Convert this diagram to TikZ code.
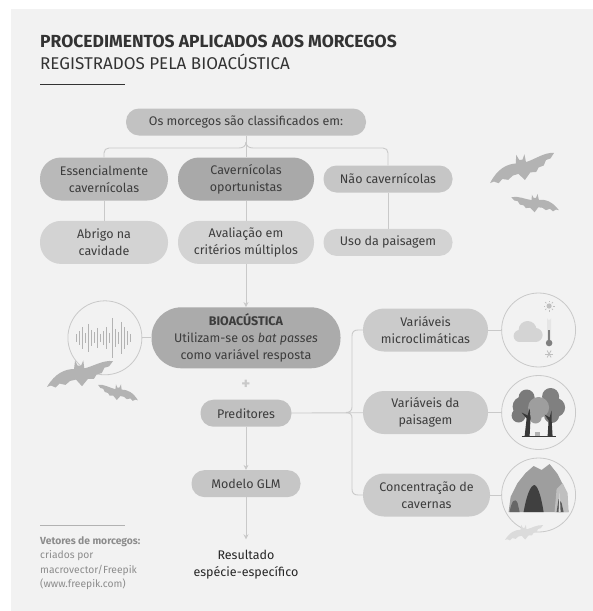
\documentclass[tikz,border=0pt]{standalone}
\usepackage{fontspec}
\setmainfont{Fira Sans}
\usetikzlibrary{positioning}
\usetikzlibrary{arrows.meta}

\definecolor{panel}{HTML}{F2F2F2}
\definecolor{ink}{HTML}{3C3C3C}
\definecolor{titleink}{HTML}{333333}
\definecolor{wire}{HTML}{C9C9C9}
\definecolor{topfill}{HTML}{C2C2C2}
\definecolor{essfill}{HTML}{B9B9B9}
\definecolor{cavfill}{HTML}{A9A9A9}
\definecolor{naofill}{HTML}{C6C6C6}
\definecolor{lowfill}{HTML}{D3D3D3}
\definecolor{biofill}{HTML}{ABABAB}
\definecolor{predfill}{HTML}{C1C1C1}
\definecolor{glmfill}{HTML}{C6C6C6}
\definecolor{varfill}{HTML}{CBCBCB}
\definecolor{batgray}{HTML}{B3B3B3}
\definecolor{creditink}{HTML}{8C8C8C}

\newcommand{\boxfont}{\fontsize{12.5}{17}\selectfont}

\tikzset{
  box/.style = {
    rectangle,
    text = ink,
    align = center,
    inner sep = 0,
    font = \boxfont
  },
  % two line boxes
  tall box/.style = {
    box,
    minimum height = 43pt,
    rounded corners = 21pt
  },
  % one line boxes
  slim box/.style = {
    box,
    minimum height = 27pt,
    rounded corners = 13pt
  },
  link/.style = {
    draw = wire,
    line width = 0.9pt
  },
  arr/.style = {
    link,
    -{Stealth[length=5pt, width=5pt]}
  },
  % round frame for the small pictures
  ring/.style = {
    circle,
    draw = wire,
    line width = 0.8pt,
    fill = panel,
    minimum size = 74pt,
    inner sep = 0
  },
  bat/.pic = {
    \fill (-1,0.42) .. controls (-0.75,0) and (-0.45,-0.12) .. (-0.18,-0.12)
      -- (-0.15,-0.38) -- (-0.07,-0.22) -- (0.03,-0.22) -- (0.1,-0.38)
      -- (0.13,-0.14) .. controls (0.4,-0.2) and (0.7,-0.4) .. (1,-0.36)
      -- (0.88,-0.2) -- (0.74,-0.16) -- (0.66,0) -- (0.5,0.05)
      -- (0.42,0.18) -- (0.24,0.18) -- (0.06,0.4) -- (-0.12,0.2)
      -- (-0.3,0.24) -- (-0.44,0.36) -- (-0.62,0.32) -- (-0.74,0.44)
      -- (-0.88,0.38) -- cycle;
  },
  node distance = 20pt
}

\begin{document}
\begin{tikzpicture}[x=1pt, y=-1pt]
  \useasboundingbox (0,0) rectangle (593,611);
  \fill[panel] (11,9) rectangle (593,611);

  % heading
  \node[anchor=base west, inner sep=0, text=titleink,
    font=\fontsize{17.5}{20}\selectfont\bfseries] (title) at (40,47)
    {PROCEDIMENTOS APLICADOS AOS MORCEGOS};
  \node[anchor=base west, inner sep=0, text=titleink,
    font=\fontsize{17}{20}\selectfont] (subtitle) at (40,69)
    {REGISTRADOS PELA BIOACÚSTICA};
  \draw[titleink, line width=0.8pt] (40,84) -- (125,84);

  % classification
  \node[slim box, fill=topfill, minimum width=240pt] (top) at (246,122)
    {Os morcegos são classificados em:};

  \node[tall box, fill=essfill, minimum width=128pt] (ess) at (104,179)
    {Essencialmente\\cavernícolas};
  \node[tall box, fill=cavfill, minimum width=136pt] (cav) at (246,179)
    {Cavernícolas\\oportunistas};
  \node[slim box, fill=naofill, minimum width=129pt] (nao) at (388,179)
    {Não cavernícolas};

  \node[tall box, fill=lowfill, minimum width=128pt] (abrigo) [below=20pt of ess]
    {Abrigo na\\cavidade};
  \node[tall box, fill=lowfill, minimum width=136pt] (aval) [below=20pt of cav]
    {Avaliação em\\critérios múltiplos};
  \node[slim box, fill=lowfill, minimum width=129pt] (uso) [below=36pt of nao]
    {Uso da paisagem};

  \coordinate (fork) at (246,142);
  \draw[link] (ess.north) -- (104,153) .. controls (104,150) and (106,148) .. (109,148)
    -- (239,148) .. controls (243,148) and (246,146) .. (fork);
  \draw[link] (fork) .. controls (246,146) and (249,148) .. (253,148)
    -- (383,148) .. controls (386,148) and (388,150) .. (388,153) -- (nao.north);
  \draw[link] (top) -- (cav);
  \draw[link] (ess) -- (abrigo);
  \draw[link] (cav) -- (aval);
  \draw[link] (nao) -- (uso);

  % bioacoustics and model
  \node[box, fill=biofill, minimum width=189pt, minimum height=61pt,
    rounded corners=30pt] (bio) [below=43pt of aval]
    {\textbf{BIOACÚSTICA}\\Utilizam-se os \emph{bat passes}\\como variável resposta};
  \draw[arr] (aval) -- (bio);

  \node[ring] (sound) [left=9pt of bio] {};
  \draw[link] (sound) -- (bio);
  \foreach \dx/\h in {-28/8, -25/14, -22/22, -19/10, -16/28, -13/16, -10/11,
      -7/20, -4/8, -1/14, 2/22, 5/10, 8/40, 11/18, 14/12, 17/32, 20/22, 23/14, 26/8}
    \draw[batgray, line width=1.1pt] ([xshift=\dx pt, yshift=\h/2 pt]sound.center)
      -- ([xshift=\dx pt, yshift=-\h/2 pt]sound.center);

  \node[text=wire, font=\fontsize{17}{17}\selectfont\bfseries, inner sep=0]
    (plus) at (246,385) {+};

  \node[slim box, fill=predfill, minimum width=91pt] (pred) [below=31pt of bio]
    {Preditores};
  \node[slim box, fill=glmfill, minimum width=109pt] (glm) [below=43pt of pred]
    {Modelo GLM};
  \node[inner sep=0, align=center, text=black!85,
    font=\fontsize{12.5}{17}\selectfont] (result) [below=53pt of glm]
    {Resultado\\espécie-específico};
  \draw[arr] (pred) -- (glm);
  \draw[arr, shorten >=11pt] (glm) -- (result);

  % predictors
  \node[tall box, fill=varfill, minimum width=125pt] (micro) at (425.5,330)
    {Variáveis\\microclimáticas};
  \node[tall box, fill=varfill, minimum width=125pt] (paisag) at (425.5,412.5)
    {Variáveis da\\paisagem};
  \node[tall box, fill=varfill, minimum width=127pt] (conc) at (426.5,495)
    {Concentração de\\cavernas};

  \coordinate (tip) at (346,412.5);
  \draw[link] (pred) -- (paisag);
  \draw[link] (micro.west) -- (358,330) .. controls (354,330) and (352,332) .. (352,336)
    -- (352,407) .. controls (352,410.5) and (350,412.5) .. (tip);
  \draw[link] (tip) .. controls (350,412.5) and (352,414.5) .. (352,418)
    -- (352,489) .. controls (352,493) and (354,495) .. (358,495) -- (conc.west);

  \node[ring] (cmicro) [right=13pt of micro] {};
  \node[ring] (cpaisag) [right=13pt of paisag] {};
  \node[ring] (cconc) [right=11pt of conc] {};
  \draw[link] (micro) -- (cmicro);
  \draw[link] (paisag) -- (cpaisag);
  \draw[link] (conc) -- (cconc);

  % weather
  \begin{scope}[shift={(cmicro.center)}]
    \fill[black!17] (-19,6) circle (6);
    \fill[black!17] (-11,0) circle (9);
    \fill[black!17] (-3,5) circle (7);
    \fill[black!17] (-19,5) rectangle (-3,12);
    \fill[black!10] (8.5,10) -- (8.5,-12) arc (180:0:2) -- (12.5,10) -- cycle;
    \fill[black!50] (9.5,0) rectangle (11.5,12);
    \fill[black!50] (10.5,13) circle (3.3);
    \fill[black!25] (10.5,-24) circle (2.6);
    \foreach \a in {0,45,...,315}
      \draw[black!25, line width=0.7pt] ([shift={(\a:3.8)}]10.5,-24) -- ([shift={(\a:5.5)}]10.5,-24);
    \foreach \a in {0,60,120}
      \draw[black!25, line width=0.8pt] ([shift={(\a:4)}]10.5,24) -- ([shift={(\a+180:4)}]10.5,24);
  \end{scope}

  % trees
  \begin{scope}[shift={(cpaisag.center)}]
    \fill[black!52] (-16,-6) circle (10) (-12,-15) circle (8) (-20,3) circle (7);
    \fill[black!50] (12,-16) circle (8.5) (17,-5) circle (9.5) (13,3) circle (7.5);
    \fill[black!38] (0,-5) circle (10.5) (-3,5) circle (6);
    \fill[black!78] (-14,24) -- (-12,6) -- (-17,0) -- (-11,3) -- (-9,-4) -- (-8,5)
      -- (-9,24) -- cycle;
    \fill[black!78] (9,24) -- (10,8) -- (6,2) -- (11,5) -- (13,-2) -- (13,7)
      -- (14,24) -- cycle;
    \fill[black!30] (-4,24) rectangle (1,19);
    \draw[black!78, line width=1pt] (-17,24) -- (17,24);
  \end{scope}

  % caves
  \begin{scope}[shift={(cconc.center)}]
    \fill[black!38] (-30,17) -- (-28,2) -- (-21,-12) -- (-13,-22) -- (-5,-29)
      -- (3,-25) -- (11,-31) -- (19,-21) -- (25,-9) -- (30,17) -- cycle;
    \fill[black!25] (16,17) -- (18,-6) -- (24,-12) -- (29,-2) -- (30,17) -- cycle;
    \fill[black!75] (-15,17) .. controls (-12,0) and (-8,-10) .. (-4,-10)
      .. controls (0,-8) and (3,4) .. (5,17) -- cycle;
    \fill[black!60] (-29,17) .. controls (-27,6) and (-24,2) .. (-21,8) -- (-19,17) -- cycle;
    \fill[black!65] (18,17) -- (20,4) -- (23,8) -- (25,17) -- cycle;
    \fill[black!15] (20,17) -- (21,-4) -- (22,17) -- cycle;
  \end{scope}

  % bats
  \pic[fill=batgray, scale=33, rotate=4] at (522,167) {bat};
  \pic[fill=batgray, scale=23, xscale=-1, rotate=-6] at (535,203) {bat};
  \pic[fill=batgray, scale=33] at (80,373) {bat};
  \pic[fill=batgray, scale=20, xscale=-1] at (118,392) {bat};
  \pic[fill=black!14, scale=19] at (524,532) {bat};

  % credits
  \draw[black!30, line width=0.6pt] (40,525) -- (125,525);
  \node[anchor=north west, inner sep=0, align=left, text=creditink,
    font=\fontsize{10.3}{14.5}\selectfont] (credit) at (40,536)
    {\textbf{Vetores de morcegos:}\\criados por\\macrovector/Freepik\\(www.freepik.com)};
\end{tikzpicture}
\end{document}
